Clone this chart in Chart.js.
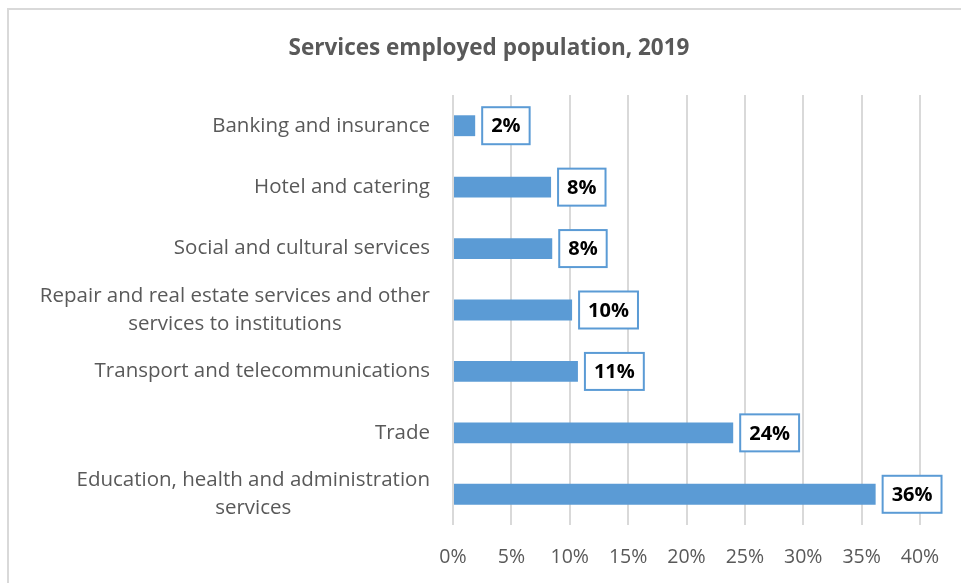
<!DOCTYPE html>
<html>
<head>
<meta charset="utf-8">
<script src="https://cdn.jsdelivr.net/npm/chart.js@4.4.0/dist/chart.umd.min.js"></script>
<style>
  html, body { margin: 0; padding: 0; background: #fff; }
  #wrap { width: 961px; height: 583px; }
</style>
</head>
<body>
<div id="wrap"><canvas id="chart" width="961" height="583"></canvas></div>
<script>
// chart data
const categories = [
  ["Banking and insurance"],
  ["Hotel and catering"],
  ["Social and cultural services"],
  ["Repair and real estate services and other", "services to institutions"],
  ["Transport and telecommunications"],
  ["Trade"],
  ["Education, health and administration", "services"]
];
const shares = [1.9, 8.4, 8.5, 10.2, 10.7, 24.0, 36.2];
const shareLabels = ["2%", "8%", "8%", "10%", "11%", "24%", "36%"];
const xTicks = [0, 5, 10, 15, 20, 25, 30, 35, 40];

const blue = '#5b9bd5';
const fontFamily = "'Open Sans', 'Noto Sans', sans-serif";

// outer frame (top + left edge, the rest is cropped in the source)
const framePlugin = {
  id: 'frame',
  beforeDraw(chart) {
    const ctx = chart.ctx;
    ctx.save();
    ctx.strokeStyle = '#d9d9d9';
    ctx.lineWidth = 2;
    ctx.beginPath();
    ctx.moveTo(8, 583);
    ctx.lineTo(8, 9);
    ctx.lineTo(961, 9);
    ctx.stroke();
    ctx.restore();
  }
};

// category labels, multi-line ones centred on each other
const yLabelPlugin = {
  id: 'yLabels',
  afterDraw(chart) {
    const ctx = chart.ctx;
    const yScale = chart.scales.y;
    const right = chart.chartArea.left - 23;
    ctx.save();
    ctx.font = '20.5px ' + fontFamily;
    ctx.fillStyle = '#595959';
    ctx.textAlign = 'center';
    ctx.textBaseline = 'middle';
    categories.forEach(function(lines, i) {
      const y = yScale.getPixelForValue(i);
      let w = 0;
      lines.forEach(function(l) { w = Math.max(w, ctx.measureText(l).width); });
      const cx = right - w / 2;
      const lh = 28;
      const start = y - (lines.length - 1) * lh / 2;
      lines.forEach(function(l, j) {
        ctx.fillText(l, cx, start + j * lh);
      });
    });
    ctx.restore();
  }
};

// boxed value labels at the end of each bar
const valueBoxPlugin = {
  id: 'valueBoxes',
  afterDatasetsDraw(chart) {
    const ctx = chart.ctx;
    const meta = chart.getDatasetMeta(0);
    ctx.save();
    ctx.font = 'bold 20px ' + fontFamily;
    ctx.textBaseline = 'middle';
    ctx.textAlign = 'center';
    meta.data.forEach(function(bar, i) {
      const txt = shareLabels[i];
      const tw = ctx.measureText(txt).width;
      const bw = tw + 18;
      const bh = 37;
      const bx = bar.x + 7;
      const by = bar.y - bh / 2;
      ctx.fillStyle = '#ffffff';
      ctx.fillRect(bx, by, bw, bh);
      ctx.strokeStyle = blue;
      ctx.lineWidth = 2;
      ctx.strokeRect(bx, by, bw, bh);
      ctx.fillStyle = '#000000';
      ctx.fillText(txt, bx + bw / 2, bar.y + 1);
    });
    ctx.restore();
  }
};

new Chart(document.getElementById('chart'), {
  type: 'bar',
  data: {
    labels: categories,
    datasets: [{
      data: shares,
      backgroundColor: blue,
      borderWidth: 0,
      categoryPercentage: 1,
      barPercentage: 0.34
    }]
  },
  plugins: [framePlugin, yLabelPlugin, valueBoxPlugin],
  options: {
    indexAxis: 'y',
    responsive: false,
    animation: false,
    layout: { padding: { left: 58, right: 41, top: 0, bottom: 0 } },
    plugins: {
      legend: { display: false },
      tooltip: { enabled: false },
      title: {
        display: true,
        text: 'Services employed population, 2019',
        color: '#595959',
        font: { family: fontFamily, size: 22.5, weight: 'bold' },
        padding: { top: 35, bottom: 33 }
      }
    },
    scales: {
      x: {
        min: 0,
        max: 40,
        afterBuildTicks(scale) {
          scale.ticks = xTicks.map(function(v) { return { value: v }; });
        },
        afterFit(scale) { scale.height = 58; },
        grid: { color: '#d9d9d9', lineWidth: 2, drawTicks: false },
        border: { display: false },
        ticks: {
          color: '#595959',
          padding: 21,
          font: { family: fontFamily, size: 19.5 },
          callback: function(v) { return v + '%'; }
        }
      },
      y: {
        afterFit(scale) { scale.width = 395; },
        grid: { display: false },
        border: { display: false },
        ticks: { display: false }
      }
    }
  }
});
</script>
</body>
</html>
